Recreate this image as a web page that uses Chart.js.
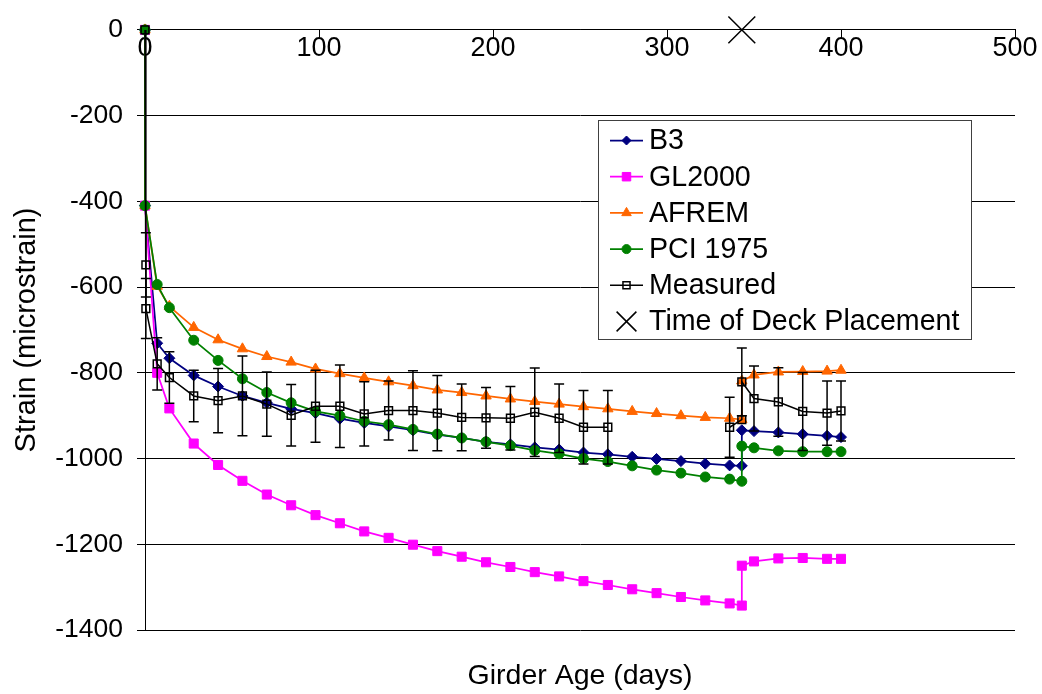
<!DOCTYPE html>
<html>
<head>
<meta charset="utf-8">
<script src="https://cdn.jsdelivr.net/npm/chart.js@4.4.0/dist/chart.umd.min.js"></script>
<style>
  html, body { margin: 0; padding: 0; background: #fff; }
</style>
</head>
<body>
<canvas id="strainChart" width="1042" height="694"></canvas>
<script>
// girder age (days) at which the model predictions were evaluated
const modelDays = [0, 0, 7, 14, 28, 42, 56, 70, 84, 98, 112, 126, 140, 154, 168, 182, 196,
  210, 224, 238, 252, 266, 280, 294, 308, 322, 336, 343, 343, 350, 364, 378, 392, 400];

const b3 = [0, -410, -731, -766, -806, -832, -854, -870, -884, -894, -907, -917, -925, -934,
  -944, -952, -961, -967, -974, -979, -986, -990, -996, -1001, -1006, -1012, -1016,
  -1017, -934, -936, -939, -943, -947, -950];
const gl2000 = [0, -410, -800, -883, -965, -1015, -1052, -1084, -1109, -1132, -1151, -1170,
  -1185, -1201, -1216, -1229, -1242, -1253, -1265, -1275, -1286, -1295, -1305, -1314, -1323,
  -1331, -1338, -1343, -1250, -1240, -1233, -1232, -1234, -1234];
const afrem = [0, -410, -598, -645, -694, -723, -744, -762, -775, -791, -802, -812, -821,
  -830, -840, -846, -854, -861, -867, -873, -879, -884, -890, -895, -900, -904, -906,
  -909, -819, -805, -798, -797, -796, -794];
const pci1975 = [0, -410, -594, -648, -724, -771, -814, -846, -870, -890, -900, -913, -921,
  -932, -943, -952, -961, -970, -981, -989, -1000, -1007, -1017, -1027, -1034, -1043, -1048,
  -1053, -971, -975, -982, -984, -984, -984];

// measured strains (null = no reading, breaks the line)
const measuredDays = [0, 0.5, 0.5, 7, 14, 28, 42, 56, 70, 84, 98, 112, 126, 140, 154, 168, 182,
  196, 210, 224, 238, 252, 266, 280, 336, 343, 343, 350, 364, 378, 392, 400];
const measured = [0, -548, -650, -779, -811, -854, -865, -854, -873, -899, -878, -878, -896,
  -888, -888, -894, -904, -905, -906, -892, -906, -927, -927, null, -927, -909, -821, -860,
  -868, -890, -894, -889];
const measuredErr = [0, 75, 70, 61, 60, 60, 75, 93, 75, 72, 84, 96, 75, 69, 93, 88, 78, 71,
  74, 103, 80, 86, 86, null, 70, 0, 79, 76, 80, 91, 75, 70];

const deckDays = [343];
const deckStrain = [0];

const xTicks = [0, 100, 200, 300, 400, 500];
const yTicks = [0, -200, -400, -600, -800, -1000, -1200, -1400];

const pts = (xs, ys) => xs.map((x, i) => ({ x: x, y: ys[i] }));

const FONT = "'Liberation Sans', Arial, sans-serif";

// error bars for the measured series
const errorBars = {
  id: 'errorBars',
  afterDatasetsDraw(chart) {
    const ctx = chart.ctx;
    const xs = chart.scales.x, ys = chart.scales.y;
    ctx.save();
    ctx.strokeStyle = '#000';
    ctx.lineWidth = 1.5;
    measuredDays.forEach((d, i) => {
      const v = measured[i], e = measuredErr[i];
      if (v === null || !e) return;
      const px = xs.getPixelForValue(d);
      const top = ys.getPixelForValue(v + e);
      const bot = ys.getPixelForValue(v - e);
      ctx.beginPath();
      ctx.moveTo(px, top); ctx.lineTo(px, bot);
      ctx.moveTo(px - 5, top); ctx.lineTo(px + 5, top);
      ctx.moveTo(px - 5, bot); ctx.lineTo(px + 5, bot);
      ctx.stroke();
    });
    ctx.restore();
  }
};

// boxed legend inside the plot, like the original
const boxLegend = {
  id: 'boxLegend',
  afterDraw(chart) {
    const ctx = chart.ctx;
    const bx = 598, by = 120, bw = 373, bh = 219;
    ctx.save();
    ctx.fillStyle = '#fff';
    ctx.fillRect(bx, by, bw, bh);
    ctx.strokeStyle = '#404040';
    ctx.lineWidth = 1;
    ctx.strokeRect(bx + 0.5, by + 0.5, bw, bh);
    chart.data.datasets.forEach((ds, row) => {
      const cy = 140.5 + row * 36.2;
      if (ds.showLine !== false) {
        ctx.strokeStyle = ds.borderColor;
        ctx.lineWidth = ds.borderWidth;
        ctx.beginPath();
        ctx.moveTo(610, cy); ctx.lineTo(643, cy);
        ctx.stroke();
      }
      ctx.fillStyle = ds.pointBackgroundColor;
      ctx.strokeStyle = ds.pointBorderColor;
      ctx.lineWidth = ds.pointBorderWidth;
      Chart.helpers.drawPoint(ctx, {
        pointStyle: ds.pointStyle,
        radius: ds.legendRadius,
        rotation: 0,
        borderWidth: ds.pointBorderWidth
      }, 626.5, cy);
      ctx.fillStyle = '#000';
      ctx.font = '28.6px ' + FONT;
      ctx.textBaseline = 'middle';
      ctx.textAlign = 'left';
      ctx.fillText(ds.label, 649, cy + 1);
    });
    ctx.restore();
  }
};

function series(label, days, vals, color, style, r, lr, order) {
  return {
    label: label,
    data: pts(days, vals),
    showLine: true,
    borderColor: color,
    borderWidth: 1.75,
    pointBackgroundColor: color,
    pointBorderColor: color,
    pointBorderWidth: 1,
    pointStyle: style,
    pointRadius: r,
    legendRadius: lr,
    tension: 0,
    clip: false,
    order: order
  };
}

const datasets = [
  series('B3', modelDays, b3, '#000080', 'rectRot', 5.5, 4.5, 5),
  series('GL2000', modelDays, gl2000, '#FF00FF', 'rect', 6.4, 6, 4),
  series('AFREM', modelDays, afrem, '#FF6600', 'triangle', 6, 5.5, 3),
  series('PCI 1975', modelDays, pci1975, '#008000', 'circle', 5, 4.5, 2),
  {
    label: 'Measured',
    data: pts(measuredDays, measured),
    showLine: true,
    spanGaps: false,
    borderColor: '#000',
    borderWidth: 1.5,
    pointBackgroundColor: 'rgba(0,0,0,0)',
    pointBorderColor: '#000',
    pointBorderWidth: 1.5,
    pointStyle: 'rect',
    pointRadius: 5.5,
    legendRadius: 5,
    tension: 0,
    clip: false,
    order: 1
  },
  {
    label: 'Time of Deck Placement',
    data: pts(deckDays, deckStrain),
    showLine: false,
    borderColor: '#000',
    borderWidth: 1.5,
    pointBackgroundColor: 'rgba(0,0,0,0)',
    pointBorderColor: '#000',
    pointBorderWidth: 1.5,
    pointStyle: 'crossRot',
    pointRadius: 19,
    legendRadius: 14,
    clip: false,
    order: 0
  }
];

new Chart(document.getElementById('strainChart'), {
  type: 'scatter',
  data: { datasets: datasets },
  options: {
    responsive: false,
    animation: false,
    devicePixelRatio: 1,
    layout: { padding: { top: 24, right: 27, bottom: 0, left: 0 } },
    plugins: { legend: { display: false }, tooltip: { enabled: false } },
    scales: {
      x: {
        type: 'linear',
        min: 0, max: 500,
        position: { y: 0 },
        afterBuildTicks: s => { s.ticks = xTicks.map(v => ({ value: v })); },
        ticks: { color: '#000', font: { family: FONT, size: 27 }, padding: -6, maxRotation: 0,
          callback: v => String(v) },
        grid: { drawOnChartArea: false, drawTicks: true, tickLength: 8, color: '#000' },
        border: { display: true, color: '#000', width: 1 }
      },
      xTitle: {
        type: 'linear',
        axis: 'x',
        min: 0, max: 500,
        position: 'bottom',
        ticks: { display: false },
        grid: { display: false },
        border: { display: false },
        title: {
          display: true, text: 'Girder Age (days)', color: '#000',
          font: { family: FONT, size: 28.5 }, padding: { top: 0, bottom: 1 }
        },
        afterFit: s => { s.height = 64; }
      },
      y: {
        type: 'linear',
        min: -1400, max: 0,
        position: 'left',
        afterBuildTicks: s => { s.ticks = yTicks.map(v => ({ value: v })); },
        afterFit: s => { s.width = 145; },
        ticks: { color: '#000', font: { family: FONT, size: 26.5 }, padding: 14,
          callback: v => String(v) },
        grid: { color: '#000', lineWidth: 1, drawTicks: true, tickLength: 8 },
        border: { display: true, color: '#000', width: 1 },
        title: {
          display: true, text: 'Strain (microstrain)', color: '#000',
          font: { family: FONT, size: 29 }, padding: { top: 10, bottom: 0 }
        }
      }
    }
  },
  plugins: [errorBars, boxLegend]
});
</script>
</body>
</html>
